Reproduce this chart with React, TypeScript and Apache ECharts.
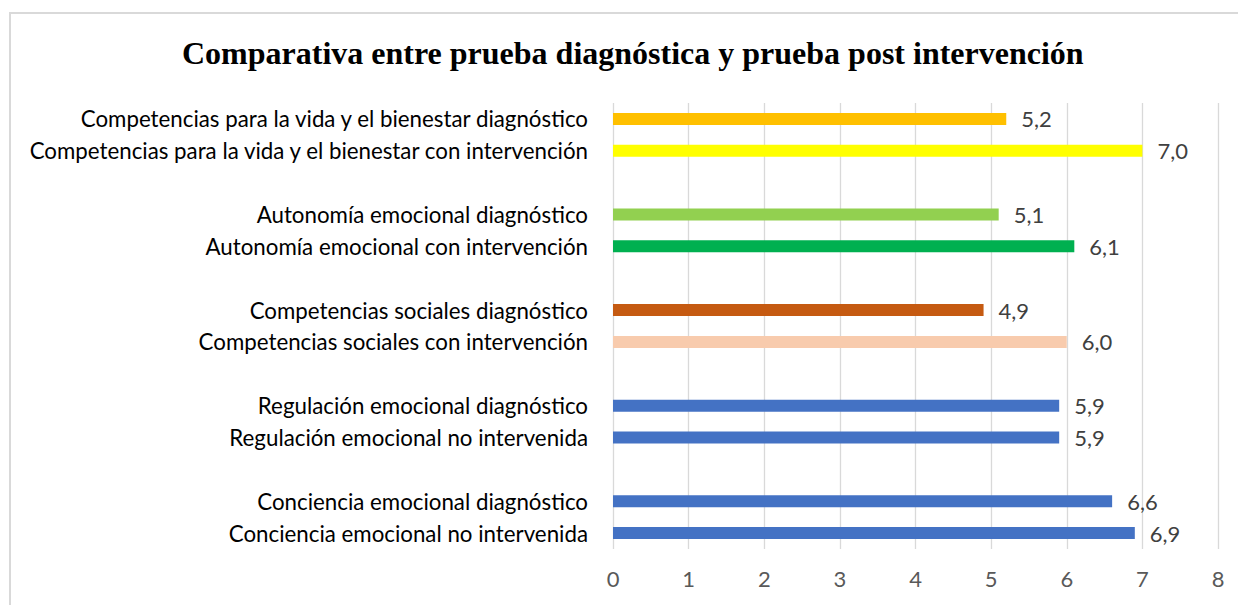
import React, { useEffect, useRef } from "react";
import * as echarts from "echarts";

const title = "Comparativa entre prueba diagnóstica y prueba post intervención";
const categories = [
  "Competencias para la vida y el bienestar diagnóstico",
  "Competencias para la vida y el bienestar con intervención",
  "",
  "Autonomía emocional diagnóstico",
  "Autonomía emocional con intervención",
  "",
  "Competencias sociales diagnóstico",
  "Competencias sociales con intervención",
  "",
  "Regulación emocional diagnóstico",
  "Regulación emocional no intervenida",
  "",
  "Conciencia emocional diagnóstico",
  "Conciencia emocional no intervenida",
];
const values: (number | null)[] = [5.2, 7.0, null, 5.1, 6.1, null, 4.9, 6.0, null, 5.9, 5.9, null, 6.6, 6.9];
const colors = [
  "#FFC000", "#FFFF00", "#ffffff",
  "#92D050", "#00B050", "#ffffff",
  "#C55A11", "#F8CBAD", "#ffffff",
  "#4472C4", "#4472C4", "#ffffff",
  "#4472C4", "#4472C4",
];
const xTicks = [0, 1, 2, 3, 4, 5, 6, 7, 8];

const FONT = "Lato, 'Open Sans', sans-serif";

export default function App() {
  const ref = useRef<HTMLDivElement>(null);
  useEffect(() => {
    if (!ref.current) return;
    const chart = echarts.init(ref.current, undefined, { renderer: "svg" });
    chart.setOption({
      animation: false,
      backgroundColor: "#ffffff",
      title: {
        text: title,
        left: 177,
        top: 32,
        textStyle: {
          fontFamily: "'Liberation Serif', 'Times New Roman', serif",
          fontWeight: "bold",
          fontSize: 32,
          color: "#000000",
        },
      },
      graphic: [
        {
          type: "rect",
          shape: { x: 10, y: 13, width: 1240, height: 600 },
          style: { fill: "none", stroke: "#d9d9d9", lineWidth: 2 },
          silent: true,
        },
      ],
      grid: { left: 613, right: 20, top: 103, bottom: 56, containLabel: false },
      xAxis: {
        type: "value",
        min: xTicks[0],
        max: xTicks[xTicks.length - 1],
        interval: 1,
        axisLine: { show: false },
        axisTick: { show: false },
        splitLine: { show: true, lineStyle: { color: "#d9d9d9", width: 1.3 } },
        axisLabel: {
          color: "#595959",
          fontSize: 22,
          fontFamily: FONT,
          margin: 18,
        },
      },
      yAxis: {
        type: "category",
        data: categories,
        inverse: true,
        axisLine: { show: false },
        axisTick: { show: false },
        splitLine: { show: false },
        axisLabel: {
          color: "#000000",
          fontSize: 22.3,
          fontFamily: FONT,
          margin: 25,
        },
      },
      series: [
        {
          type: "bar",
          barWidth: 12,
          data: values.map((v, i) => ({
            value: v,
            itemStyle: { color: colors[i] },
          })),
          label: {
            show: true,
            position: "right",
            distance: 15,
            color: "#404040",
            fontSize: 22,
            fontFamily: FONT,
            formatter: (p: any) => (p.value == null ? "" : Number(p.value).toFixed(1).replace(".", ",")),
          },
        },
      ],
    });
    return () => chart.dispose();
  }, []);
  return (
    <div
      ref={ref}
      style={{ position: "fixed", left: 0, top: 0, width: 1238, height: 605 }}
    />
  );
}
